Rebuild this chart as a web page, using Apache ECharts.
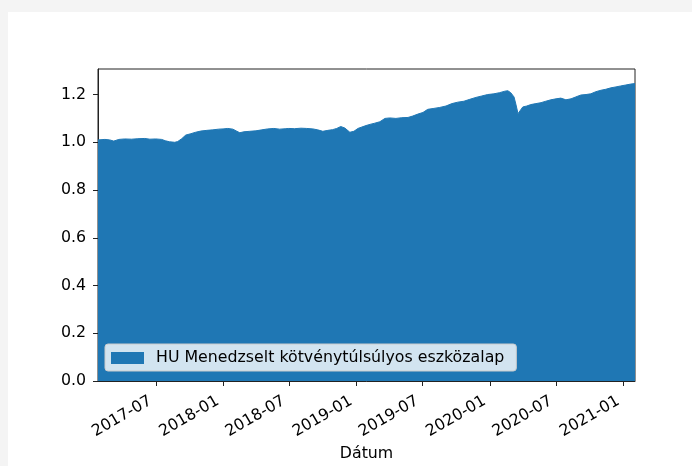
<!DOCTYPE html>
<html>
<head>
<meta charset="utf-8">
<script src="https://cdn.jsdelivr.net/npm/echarts@6/dist/echarts.min.js"></script>
<style>
  html, body { margin: 0; padding: 0; background: #f4f4f4; width: 692px; height: 466px; overflow: hidden; }
  #card { position: absolute; left: 8px; top: 12px; width: 684px; height: 454px; background: #ffffff; }
  #chart { position: absolute; left: 0; top: 0; width: 692px; height: 466px; }
</style>
</head>
<body>
<div id="card"></div>
<div id="chart"></div>
<script>
// ---- data ----
const seriesName = 'HU Menedzselt kötvénytúlsúlyos eszközalap';
const xAxisTitle = 'Dátum';
const dates = [
  '2017-01-24','2017-02-12','2017-02-25','2017-03-08','2017-03-22','2017-04-07','2017-04-26','2017-05-13',
  '2017-06-01','2017-06-15','2017-07-01','2017-07-17','2017-07-28','2017-08-08','2017-08-22','2017-08-30',
  '2017-09-10','2017-09-21','2017-10-05','2017-10-18','2017-11-01','2017-11-18','2017-12-04','2017-12-20',
  '2018-01-01','2018-01-14','2018-01-28','2018-02-08','2018-02-16','2018-02-27','2018-03-15','2018-04-01',
  '2018-04-17','2018-05-03','2018-05-20','2018-06-05','2018-06-22','2018-06-30','2018-07-16','2018-08-02',
  '2018-08-18','2018-09-04','2018-09-17','2018-10-01','2018-10-15','2018-10-28','2018-11-08','2018-11-19',
  '2018-11-30','2018-12-14','2018-12-25','2019-01-05','2019-01-16','2019-01-27','2019-02-07','2019-02-20',
  '2019-03-06','2019-03-20','2019-04-02','2019-04-19','2019-05-05','2019-05-22','2019-06-04','2019-06-18',
  '2019-07-02','2019-07-15','2019-08-01','2019-08-17','2019-09-03','2019-09-19','2019-10-05','2019-10-22',
  '2019-11-07','2019-11-24','2019-12-10','2019-12-26','2020-01-12','2020-01-28','2020-02-11','2020-02-19',
  '2020-02-27','2020-03-07','2020-03-12','2020-03-18','2020-03-23','2020-03-31','2020-04-11','2020-04-22',
  '2020-05-06','2020-05-20','2020-06-02','2020-06-16','2020-06-30','2020-07-13','2020-07-27','2020-08-10',
  '2020-08-23','2020-09-06','2020-09-20','2020-10-03','2020-10-17','2020-10-31','2020-11-13','2020-11-27',
  '2020-12-11','2020-12-24','2021-01-07','2021-01-21','2021-02-01'
];
const values = [
  1.010,1.012,1.010,1.005,1.012,1.014,1.013,1.015,
  1.016,1.013,1.014,1.012,1.006,1.002,1.000,1.003,
  1.015,1.030,1.036,1.042,1.047,1.050,1.052,1.055,
  1.056,1.058,1.055,1.046,1.040,1.044,1.046,1.048,
  1.052,1.056,1.058,1.055,1.057,1.058,1.057,1.059,
  1.058,1.056,1.052,1.046,1.050,1.053,1.058,1.066,
  1.060,1.042,1.046,1.058,1.064,1.070,1.075,1.080,
  1.086,1.100,1.102,1.100,1.103,1.104,1.110,1.118,
  1.125,1.138,1.142,1.146,1.152,1.162,1.168,1.172,
  1.180,1.188,1.194,1.200,1.203,1.208,1.214,1.216,
  1.208,1.190,1.160,1.120,1.125,1.148,1.152,1.158,
  1.162,1.166,1.172,1.178,1.182,1.185,1.178,1.182,
  1.190,1.198,1.200,1.203,1.212,1.218,1.222,1.228,
  1.232,1.236,1.240,1.244,1.246
];
const xTickLabels = ['2017-07','2018-01','2018-07','2019-01','2019-07','2020-01','2020-07','2021-01'];
const yTickValues = [0.0, 0.2, 0.4, 0.6, 0.8, 1.0, 1.2];
const xMin = '2017-01-24';
const xMax = '2021-02-01';
const yMax = 1.307;

// ---- build chart ----
function ymToTs(s) { const p = s.split('-'); return Date.UTC(+p[0], +p[1] - 1, 1); }
function dateToTs(s) { const p = s.split('-'); return Date.UTC(+p[0], +p[1] - 1, +p[2]); }
const xTickTs = xTickLabels.map(ymToTs);
const tsToLabel = {};
xTickTs.forEach((t, i) => { tsToLabel[t] = xTickLabels[i]; });
const seriesData = dates.map((d, i) => [dateToTs(d), values[i]]);

const FONT = 'DejaVu Sans';
const FS = 15.8;
const chart = echarts.init(document.getElementById('chart'), null, { renderer: 'canvas' });
chart.setOption({
  animation: false,
  backgroundColor: 'transparent',
  grid: {
    left: 98, top: 69, right: 57, bottom: 85,
    containLabel: false,
    outerBoundsMode: 'none',
    show: true, borderColor: '#222', borderWidth: 1, backgroundColor: 'transparent', z: 3
  },
  legend: {
    show: true,
    data: [seriesName],
    left: 105, top: 344,
    orient: 'vertical',
    icon: 'rect',
    itemWidth: 33, itemHeight: 12,
    padding: [6, 12, 5, 6],
    backgroundColor: 'rgba(255,255,255,0.8)',
    borderColor: '#cccccc', borderWidth: 1, borderRadius: 3,
    textStyle: { fontFamily: FONT, fontSize: FS, color: '#000', padding: [0, 0, 0, 7] },
    selectedMode: false
  },
  xAxis: {
    type: 'value',
    min: dateToTs(xMin), max: dateToTs(xMax),
    name: xAxisTitle,
    nameLocation: 'middle',
    nameGap: 63,
    nameTextStyle: { fontFamily: FONT, fontSize: FS, color: '#000' },
    axisLine: { show: true, lineStyle: { color: '#222', width: 1 } },
    axisTick: { show: true, inside: false, length: 5, lineStyle: { color: '#222', width: 1 }, customValues: xTickTs },
    axisLabel: {
      customValues: xTickTs,
      rotate: 30, margin: 16,
      padding: [0, 6, 0, 0],
      fontFamily: FONT, fontSize: FS, color: '#000',
      formatter: function (v) { return tsToLabel[v] !== undefined ? tsToLabel[v] : ''; }
    },
    splitLine: { show: false },
    minorTick: { show: false }
  },
  yAxis: {
    type: 'value',
    min: 0, max: yMax,
    axisLine: { show: true, lineStyle: { color: '#222', width: 1 } },
    axisTick: { show: true, inside: false, length: 5, lineStyle: { color: '#222', width: 1 }, customValues: yTickValues },
    axisLabel: {
      customValues: yTickValues,
      margin: 12,
      fontFamily: FONT, fontSize: FS, color: '#000',
      formatter: function (v) { return v.toFixed(1); }
    },
    splitLine: { show: false }
  },
  series: [{
    name: seriesName,
    type: 'line',
    data: seriesData,
    showSymbol: false,
    symbol: 'none',
    color: '#1f77b4',
    lineStyle: { color: '#1f77b4', width: 1 },
    areaStyle: { color: '#1f77b4', opacity: 1 },
    itemStyle: { color: '#1f77b4' }
  }]
});
</script>
</body>
</html>
